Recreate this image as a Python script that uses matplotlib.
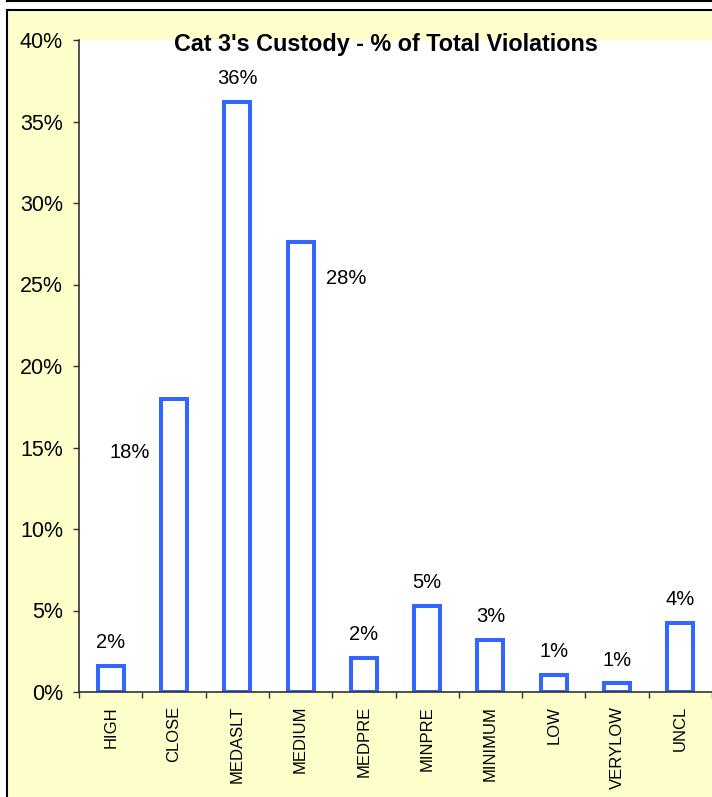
import matplotlib
matplotlib.use("Agg")
import matplotlib.pyplot as plt
from matplotlib.patches import Rectangle
from matplotlib.lines import Line2D
import numpy as np

plt.rcParams['font.family'] = ['Liberation Sans', 'DejaVu Sans']

# data (% of total violations)
categories = ["HIGH", "CLOSE", "MEDASLT", "MEDIUM", "MEDPRE",
              "MINPRE", "MINIMUM", "LOW", "VERYLOW", "UNCL"]
values = [1.6, 18.0, 36.2, 27.6, 2.1, 5.3, 3.2, 1.06, 0.53, 4.25]
labels = ["2%", "18%", "36%", "28%", "2%", "5%", "3%", "1%", "1%", "4%"]
yticks = [0, 5, 10, 15, 20, 25, 30, 35, 40]
ytick_labels = ["0%", "5%", "10%", "15%", "20%", "25%", "30%", "35%", "40%"]

yellow = "#FFFFCC"
blue = "#3366FF"

fig = plt.figure(figsize=(7.12, 7.97), dpi=100)
fig.patch.set_facecolor("white")

# outer yellow frame (cut off at the right and bottom like the original)
fig.add_artist(Rectangle((6.5 / 712, -0.05), 2.0, 1 - 9.5 / 797 + 0.05,
                         transform=fig.transFigure, facecolor=yellow,
                         edgecolor="black", linewidth=1.5, zorder=0))
fig.add_artist(Line2D([6.5 / 712, 1.0], [1 - 1 / 797, 1 - 1 / 797],
                      transform=fig.transFigure, color="black", linewidth=1.5))
fig.add_artist(Line2D([6.5 / 712, 6.5 / 712], [1.0, 1 - 1 / 797],
                      transform=fig.transFigure, color="black", linewidth=1.5))

ax = fig.add_axes([79 / 712, 1 - 692 / 797, 633 / 712, 652 / 797])
ax.set_facecolor("white")

x = np.arange(len(categories))
ax.bar(x, values, width=0.41, facecolor="white", edgecolor=blue,
       linewidth=2.9, zorder=3)

# label offsets in pixels (Excel put two of them beside the bar)
offsets = [(0, 23)] * len(categories)
offsets[1] = (-44, -54)
offsets[3] = (46, -36)
for xi, v, lab, (dx, dy) in zip(x, values, labels, offsets):
    ax.annotate(lab, (xi, v), xytext=(dx * 0.72, dy * 0.72),
                textcoords="offset points", ha="center", va="center",
                fontsize=14.5, color="black")

ax.set_xlim(-0.5, len(categories) - 0.5)
ax.set_ylim(0, 40)
ax.set_yticks(yticks)
ax.set_yticklabels(ytick_labels, fontsize=15.5)
ax.set_xticks(x)
ax.set_xticklabels(categories, rotation=90, fontsize=12)
ax.set_xticks(np.arange(len(categories) + 1) - 0.5, minor=True)
ax.tick_params(axis="x", which="major", length=0, pad=10)
ax.tick_params(axis="x", which="minor", length=4, width=1, color="#333333")
ax.tick_params(axis="y", length=4.5, width=1, pad=7, color="#333333")

for s in ["top", "right"]:
    ax.spines[s].set_visible(False)
for s in ["left", "bottom"]:
    ax.spines[s].set_color("#333333")
    ax.spines[s].set_linewidth(1.2)
    ax.spines[s].set_zorder(4)

fig.text(386 / 712, 1 - 44 / 797, "Cat 3's Custody - % of Total Violations",
         ha="center", va="center", fontsize=16.8, fontweight="bold")

fig.savefig("out.png", dpi=100)
